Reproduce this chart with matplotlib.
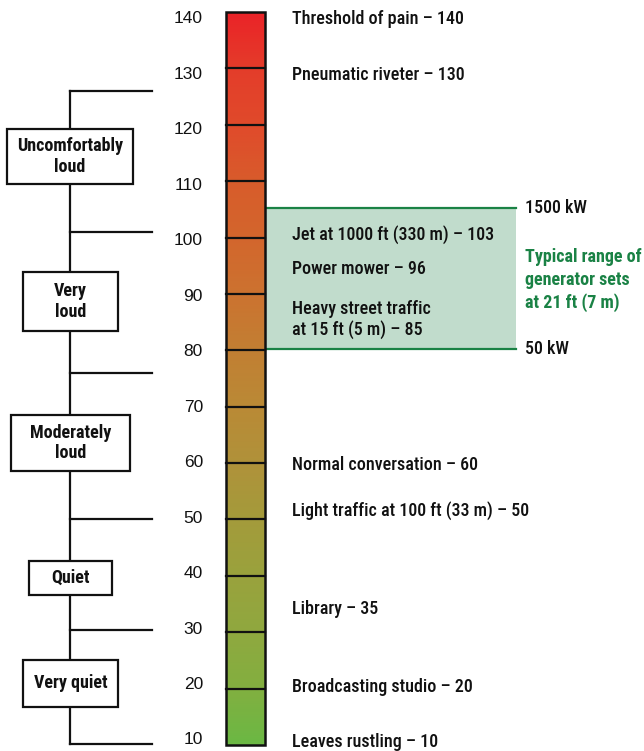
import matplotlib
matplotlib.use("Agg")
import matplotlib.pyplot as plt
import numpy as np
from matplotlib.colors import LinearSegmentedColormap
from matplotlib.patches import Rectangle

# escala em dB
escala = [10, 20, 30, 40, 50, 60, 70, 80, 90, 100, 110, 120, 130, 140]
cores_barra = ["#6cb844", "#83af40", "#90a83f", "#9aa23d", "#a49b3b", "#b0923a",
               "#ba8a36", "#c27f33", "#cc7330", "#d3662d", "#d85c2b", "#e04b2b",
               "#e43d2a", "#ea2428"]

# fontes de ruido e nivel (dB)
fontes = ["Threshold of pain – 140", "Pneumatic riveter – 130",
          "Jet at 1000 ft (330 m) – 103", "Power mower – 96",
          "Heavy street traffic\nat 15 ft (5 m) – 85", "Normal conversation – 60",
          "Light traffic at 100 ft (33 m) – 50", "Library – 35",
          "Broadcasting studio – 20", "Leaves rustling – 10"]
niveis = [140, 130, 103, 96, 85, 60, 50, 35, 20, 10]
# onde o texto fica na figura
pos_texto = [138.7, 128.9, 100.6, 94.5, 85.5, 59.6, 51.5, 34.2, 20.2, 10.5]

# categorias de volume
categorias = ["Uncomfortably\nloud", "Very\nloud", "Moderately\nloud", "Quiet", "Very quiet"]
limites = [126, 101, 76, 50, 30.4, 10.2]

# faixa dos geradores
faixa_gerador = [80.2, 105.3]
rotulos_gerador = ["50 kW", "1500 kW"]

PX = 5.638  # pixels por dB


def v(ypx):
    return 140 - (ypx - 12) / PX


fonte = ["Liberation Sans Narrow", "Roboto Condensed", "Open Sans Condensed", "Roboto",
         "DejaVu Sans"]
preto = "#111111"
verde = "#1a8245"

fig = plt.figure(figsize=(6.44, 7.51), dpi=100)
ax = fig.add_axes([0, 0, 1, 1])
ax.set_xlim(0, 644)
ax.set_ylim(v(751), v(0))
ax.axis("off")

# faixa verde dos geradores
ax.add_patch(Rectangle((265, faixa_gerador[0]), 251, faixa_gerador[1] - faixa_gerador[0],
                       facecolor="#c1dccc", edgecolor="none", zorder=1))
for y, r in zip(faixa_gerador, rotulos_gerador):
    ax.plot([265, 516], [y, y], color=verde, lw=1.6, zorder=2)
    ax.text(525, y, r, fontsize=13, family=fonte, fontweight="medium", color=preto,
            va="center", ha="left")
ax.text(525, v(280), "Typical range of\ngenerator sets\nat 21 ft (7 m)", fontsize=13,
        family=fonte, fontweight="bold", color=verde, va="center", ha="left",
        linespacing=1.32)

# barra com gradiente
cmap = LinearSegmentedColormap.from_list("barra", cores_barra)
grad = np.linspace(1, 0, 300).reshape(-1, 1)
ax.imshow(grad, cmap=cmap, extent=[226, 265, escala[0], escala[-1]], aspect="auto",
          zorder=3, interpolation="bilinear")
for e in escala[1:-1]:
    ax.plot([226, 265], [e, e], color=preto, lw=1.6, zorder=4)
ax.add_patch(Rectangle((226, escala[0]), 39, escala[-1] - escala[0], facecolor="none",
                       edgecolor=preto, lw=1.8, zorder=5))

# rotulos da escala (um pouco mais apertados que a barra, como no original)
for e in escala:
    ax.text(203, v(19 + (140 - e) * 5.546), str(e), fontsize=12.5,
            family=["Liberation Sans", "DejaVu Sans"], color=preto, ha="right", va="center")

# textos das fontes de ruido
for f, y in zip(fontes, pos_texto):
    ax.text(292, y, f, fontsize=13, family=fonte, fontweight="medium", color=preto,
            ha="left", va="center", linespacing=1.16)

# chaves da esquerda
ax.plot([70.5, 70.5], [limites[-1], limites[0]], color=preto, lw=1.6, zorder=1)
for l in limites:
    ax.plot([70.5, 152], [l, l], color=preto, lw=1.6, zorder=1)

caixas = [(7, 133, 129, 184), (23, 118, 272, 331), (11, 130, 415, 471),
          (29, 112, 561, 595), (23, 118, 660, 707)]
for c, (x0, x1, y0, y1) in zip(categorias, caixas):
    ax.add_patch(Rectangle((x0, v(y1)), x1 - x0, v(y0) - v(y1), facecolor="white",
                           edgecolor=preto, lw=1.6, zorder=2))
    ax.text((x0 + x1) / 2, (v(y0) + v(y1)) / 2, c, fontsize=13, family=fonte,
            fontweight="bold", color=preto, ha="center", va="center", linespacing=1.18,
            zorder=3)

fig.savefig("out.png", dpi=100)
